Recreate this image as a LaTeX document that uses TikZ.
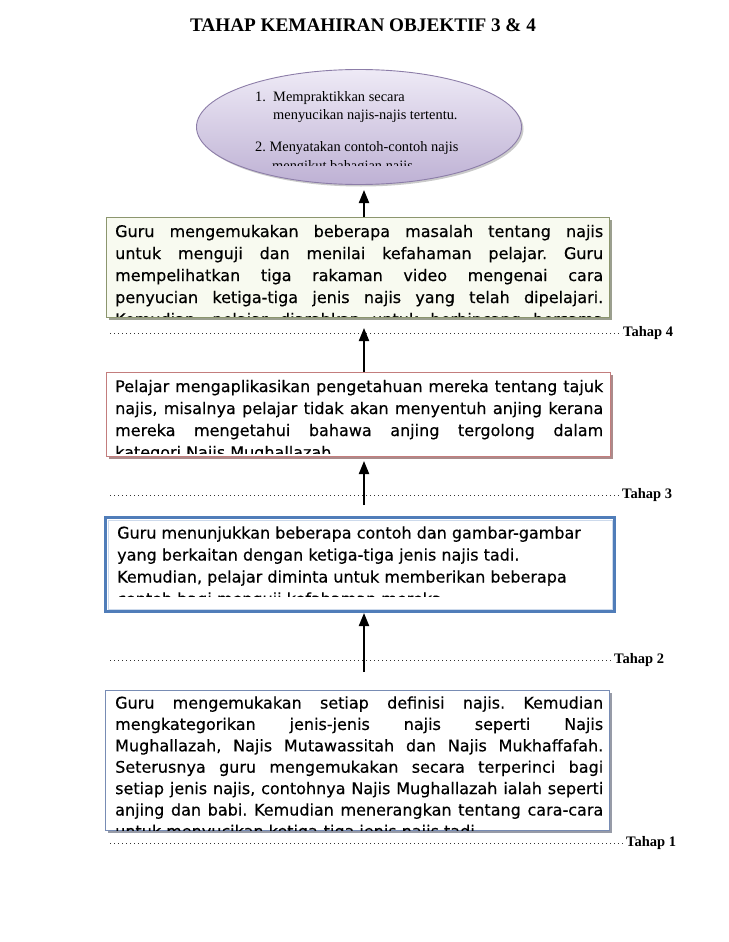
\documentclass[tikz,border=0pt]{standalone}
\usepackage{fontspec}
\setmainfont{Liberation Serif}
\newfontfamily\boxfont[FakeBold=0.4]{DejaVu Sans}
\usetikzlibrary{shapes.geometric,arrows.meta,shadows}
\definecolor{bonefill}{RGB}{248,250,240}
\definecolor{boneline}{RGB}{140,150,110}
\definecolor{boneshadow}{RGB}{130,135,115}
\definecolor{btwoline}{RGB}{195,125,125}
\definecolor{btwoshadow}{RGB}{150,110,110}
\definecolor{bthreeline}{RGB}{80,125,185}
\definecolor{bthreeinner}{RGB}{205,218,236}
\definecolor{bfourline}{RGB}{120,140,180}
\definecolor{bfourshadow}{RGB}{125,130,145}
\definecolor{elltop}{RGB}{238,234,246}
\definecolor{ellmid}{RGB}{226,219,238}
\definecolor{ellbot}{RGB}{190,177,212}
\definecolor{ellline}{RGB}{140,125,168}
\tikzset{
  boxtext/.style={anchor=base west, inner sep=0pt, font=\boxfont\fontsize{16}{22}\selectfont},
  arr/.style={line width=2pt, -{Triangle[length=13pt,width=10pt]}},
  dotline/.style={line width=1pt, dash pattern=on 0.9pt off 3.1pt, black!80},
  tahap/.style={anchor=west, inner sep=1pt, font=\bfseries\fontsize{14.5}{16}\selectfont},
}
\newcommand{\jline}[1]{\makebox[\linewidth][s]{#1}}
\frenchspacing
\begin{document}
\begin{tikzpicture}[x=1pt,y=-1pt]
\useasboundingbox (0,0) rectangle (728,942);
% title
\node[font=\bfseries\fontsize{19.2}{21}\selectfont] (title) at (363,25) {TAHAP KEMAHIRAN OBJEKTIF 3 \& 4};
% ellipse
\node[ellipse, draw=ellline, line width=0.9pt, top color=elltop, middle color=ellmid, bottom color=ellbot,
  minimum width=325, minimum height=115, inner sep=0pt,
  drop shadow={shadow xshift=2pt, shadow yshift=-2pt, fill=black!35, opacity=0.6}] (ell) at (359,127) {};
\begin{scope}
\clip (200,70) rectangle (525,165);
\node[anchor=base west, inner sep=0pt, font=\fontsize{14.4}{18.5}\selectfont] (elltext) at (255,101)
 {\parbox[t]{260pt}{\makebox[18pt][l]{1.}Mempraktikkan secara\\
 \hspace*{18pt}menyucikan najis-najis tertentu.\\[14pt]
 2. Menyatakan contoh-contoh najis\\
 \hspace*{17pt}mengikut bahagian najis.}};
\end{scope}
% box 1
\node[anchor=north west, draw=boneline, fill=bonefill, line width=0.8pt, minimum width=503, minimum height=100,
  drop shadow={shadow xshift=3pt, shadow yshift=-3pt, fill=boneshadow, opacity=0.8}] (b1) at (106,217) {};
\begin{scope}
\clip (107,218) rectangle (608,316.5);
\node[boxtext] (t1) at (115,237) {\parbox[t]{488pt}{%
\jline{Guru mengemukakan beberapa masalah tentang najis}\\
\jline{untuk menguji dan menilai kefahaman pelajar. Guru}\\
\jline{mempelihatkan tiga rakaman video mengenai cara}\\
\jline{penyucian ketiga-tiga jenis najis yang telah dipelajari.}\\
\jline{Kemudian, pelajar diarahkan untuk berbincang bersama}}};
\end{scope}
% box 2
\node[anchor=north west, draw=btwoline, fill=white, line width=0.8pt, minimum width=504, minimum height=84,
  drop shadow={shadow xshift=3pt, shadow yshift=-3pt, fill=btwoshadow, opacity=0.8}] (b2) at (106,372) {};
\begin{scope}
\clip (107,373) rectangle (609,453.5);
\node[boxtext] (t2) at (115,392) {\parbox[t]{488pt}{%
\jline{Pelajar mengaplikasikan pengetahuan mereka tentang tajuk}\\
\jline{najis, misalnya pelajar tidak akan menyentuh anjing kerana}\\
\jline{mereka mengetahui bahawa anjing tergolong dalam}\\
kategori Najis Mughallazah.}};
\end{scope}
% box 3
\node[anchor=north west, draw=bthreeline, fill=white, line width=3pt, minimum width=509, minimum height=94] (b3) at (104,516) {};
\draw[bthreeinner, line width=0.8pt] ([shift={(4pt,-4pt)}]b3.north west) rectangle ([shift={(-4pt,4pt)}]b3.south east);
\begin{scope}
\clip (108,520) rectangle (608,596);
\node[boxtext] (t3) at (117,538.5) {\parbox[t]{488pt}{%
Guru menunjukkan beberapa contoh dan gambar-gambar\\
yang berkaitan dengan ketiga-tiga jenis najis tadi.\\
Kemudian, pelajar diminta untuk memberikan beberapa\\
contoh bagi menguji kefahaman mereka.}};
\end{scope}
% box 4
\node[anchor=north west, draw=bfourline, fill=white, line width=0.8pt, minimum width=504, minimum height=140,
  drop shadow={shadow xshift=3pt, shadow yshift=-3pt, fill=bfourshadow, opacity=0.8}] (b4) at (105,690) {};
\begin{scope}
\clip (106,691) rectangle (608,830);
\node[boxtext, font=\boxfont\fontsize{16}{21.4}\selectfont] (t4) at (115,708.5) {\parbox[t]{488pt}{%
\jline{Guru mengemukakan setiap definisi najis. Kemudian}\\
\jline{mengkategorikan jenis-jenis najis seperti Najis}\\
\jline{Mughallazah, Najis Mutawassitah dan Najis Mukhaffafah.}\\
\jline{Seterusnya guru mengemukakan secara terperinci bagi}\\
\jline{setiap jenis najis, contohnya Najis Mughallazah ialah seperti}\\
\jline{anjing dan babi. Kemudian menerangkan tentang cara-cara}\\
untuk menyucikan ketiga-tiga jenis najis tadi.}};
\end{scope}
% dotted lines and labels
\node[tahap] (l4) at (622,333) {Tahap 4};
\draw[dotline] (110,333) -- (l4.west);
\node[tahap] (l3) at (621,495) {Tahap 3};
\draw[dotline] (110,495) -- (l3.west);
\node[tahap] (l2) at (613,660) {Tahap 2};
\draw[dotline] (110,660) -- (l2.west);
\node[tahap] (l1) at (625,843) {Tahap 1};
\draw[dotline] (110,843) -- (l1.west);
% arrows
\coordinate (a1s) at (364,217);
\coordinate (a1e) at (364,190);
\coordinate (a2s) at (364,372);
\coordinate (a2e) at (364,328);
\coordinate (a3s) at (364,505);
\coordinate (a3e) at (364,461);
\coordinate (a4s) at (364,672);
\coordinate (a4e) at (364,613);
\draw[arr] (a1s) -- (a1e);
\draw[arr] (a2s) -- (a2e);
\draw[arr] (a3s) -- (a3e);
\draw[arr] (a4s) -- (a4e);
\end{tikzpicture}
\end{document}
